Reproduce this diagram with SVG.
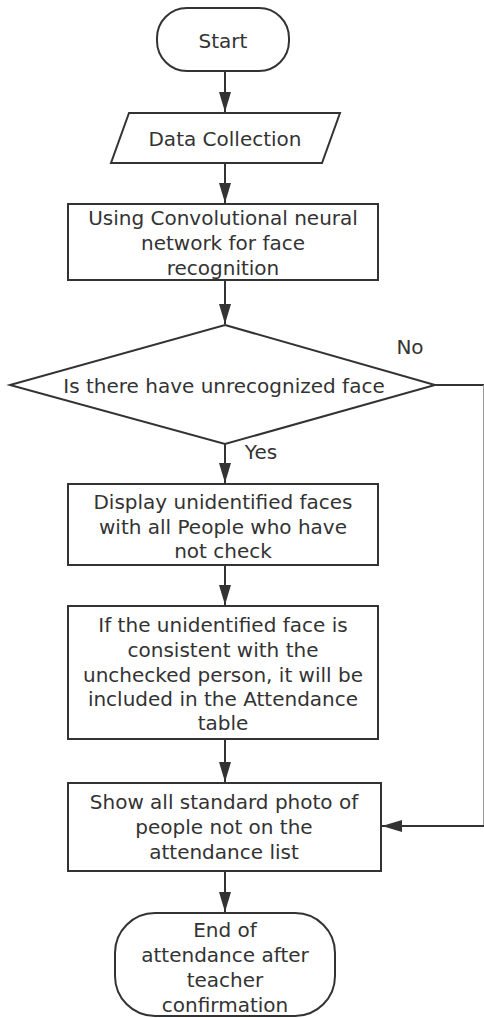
<svg xmlns="http://www.w3.org/2000/svg" width="484" height="1018" viewBox="0 0 484 1018">
<defs>
<marker id="arr" markerWidth="20" markerHeight="12" refX="20" refY="6" orient="auto" markerUnits="userSpaceOnUse" viewBox="0 0 20 12">
<path d="M0,0 L20,6 L0,12 Z" fill="#333"/>
</marker>
<style>
.shape{fill:#fff;stroke:#333;stroke-width:2}
.t{font-family:"DejaVu Sans","Open Sans",sans-serif;font-size:20px;fill:#333;text-anchor:middle}
.c{fill:none;stroke:#333;stroke-width:2}
</style>
</defs>
<rect width="484" height="1018" fill="#fff"/>
<g id="start">
<rect class="shape" x="157" y="8" width="132" height="63" rx="30"/>
<text class="t" x="223" y="48">Start</text>
</g>
<g id="data">
<polygon class="shape" points="129,113 340,113 322,163 111,163"/>
<text class="t" x="225" y="146">Data Collection</text>
</g>
<g id="cnn">
<rect class="shape" x="68" y="204" width="310" height="76"/>
<text class="t" x="223" y="225">Using Convolutional neural</text>
<text class="t" x="223" y="250">network for face</text>
<text class="t" x="223" y="275">recognition</text>
</g>
<g id="decision">
<polygon class="shape" points="225,325 435,385 225,444 10,385"/>
<text class="t" x="224" y="393">Is there have unrecognized face</text>
</g>
<g id="display">
<rect class="shape" x="68" y="484" width="310" height="81"/>
<text class="t" x="223" y="509">Display unidentified faces</text>
<text class="t" x="223" y="534">with all People who have</text>
<text class="t" x="223" y="558">not check</text>
</g>
<g id="consistent">
<rect class="shape" x="68" y="606" width="310" height="133"/>
<text class="t" x="223" y="632">If the unidentified face is</text>
<text class="t" x="223" y="657">consistent with the</text>
<text class="t" x="223" y="682">unchecked person, it will be</text>
<text class="t" x="223" y="706">included in the Attendance</text>
<text class="t" x="223" y="730">table</text>
</g>
<g id="show">
<rect class="shape" x="68" y="783" width="313" height="88"/>
<text class="t" x="224" y="809">Show all standard photo of</text>
<text class="t" x="224" y="834">people not on the</text>
<text class="t" x="224" y="859">attendance list</text>
</g>
<g id="end">
<rect class="shape" x="115" y="913" width="220" height="103" rx="40"/>
<text class="t" x="225" y="937">End of</text>
<text class="t" x="225" y="962">attendance after</text>
<text class="t" x="225" y="987">teacher</text>
<text class="t" x="225" y="1012">confirmation</text>
</g>
<g id="connectors">
<line class="c" x1="225" y1="71" x2="225" y2="112" marker-end="url(#arr)"/>
<line class="c" x1="225" y1="163" x2="225" y2="203" marker-end="url(#arr)"/>
<line class="c" x1="225" y1="280" x2="225" y2="324" marker-end="url(#arr)"/>
<line class="c" x1="225" y1="444" x2="225" y2="483" marker-end="url(#arr)"/>
<line class="c" x1="225" y1="565" x2="225" y2="605" marker-end="url(#arr)"/>
<line class="c" x1="225" y1="739" x2="225" y2="782" marker-end="url(#arr)"/>
<line class="c" x1="225" y1="871" x2="225" y2="912" marker-end="url(#arr)"/>
<line class="c" x1="435" y1="385" x2="484" y2="385"/>
<line x1="483.5" y1="385" x2="483.5" y2="826" stroke="#999" stroke-width="1"/>
<line class="c" x1="484" y1="826" x2="382" y2="826" marker-end="url(#arr)"/>
<text class="t" x="410" y="354">No</text>
<text class="t" x="261" y="459">Yes</text>
</g>
</svg>
